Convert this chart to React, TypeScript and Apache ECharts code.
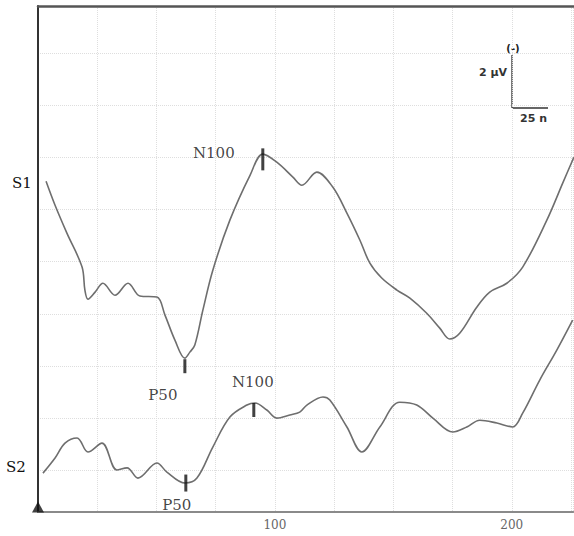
import React, { useEffect, useRef } from "react";
import * as echarts from "echarts";

// time (ms), amplitude (µV, arbitrary baseline)
const s1Data: [number, number][] = [
  [3.4, 11.08], [7.2, 10.16], [12.2, 9.09], [18.6, 7.79], [19.8, 6.91], [21.1, 6.56],
  [24.1, 6.83], [27.4, 7.17], [32.5, 6.71], [38.0, 7.17], [43.0, 6.68], [50.2, 6.64],
  [53.6, 5.95], [57.8, 4.99], [62.0, 4.3], [64.1, 4.53], [66.2, 4.8], [69.6, 6.14],
  [73.8, 7.67], [81.0, 9.59], [89.5, 11.31], [94.9, 12.12], [100.8, 11.81], [107.6, 11.24],
  [111.4, 10.93], [117.7, 11.43], [124.5, 10.85], [130.4, 9.86], [135.9, 8.82], [140.1, 7.94],
  [145.1, 7.37], [151.5, 6.91], [157.0, 6.6], [164.1, 6.02], [169.6, 5.45], [173.8, 5.03],
  [178.1, 5.26], [185.2, 6.25], [190.7, 6.83], [197.9, 7.17], [204.6, 7.79], [214.8, 9.59],
  [221.5, 11.01], [226.2, 12.0],
];

const s2Data: [number, number][] = [
  [2.1, -0.11], [7.2, 0.47], [11.4, 1.04], [16.5, 1.24], [21.1, 0.7], [27.0, 1.04],
  [33.3, 0.01], [37.6, 0.09], [42.2, -0.3], [50.2, 0.28], [54.4, -0.07], [62.0, -0.49],
  [67.1, -0.3], [73.8, 0.89], [81.0, 2.04], [88.2, 2.5], [91.6, 2.58], [96.6, 2.31],
  [100.8, 2.0], [106.3, 2.12], [110.5, 2.23], [113.5, 2.5], [120.3, 2.81], [123.2, 2.69],
  [130.4, 1.66], [136.7, 0.7], [144.3, 1.66], [152.7, 2.61], [159.9, 2.5], [166.7, 2.0],
  [175.1, 1.47], [181.0, 1.66], [186.5, 1.92], [193.7, 1.81], [200.4, 1.66], [204.6, 2.19],
  [211.8, 3.46], [219.0, 4.61], [225.7, 5.76],
];

const peakLabels = ["N100", "P50", "N100", "P50"];
const peakTimes = [94.9, 62.0, 91.1, 62.4];
const peakValues = [11.92, 3.99, 2.31, -0.49];

const xTickLabels = [100, 200];
const xMin = 0;
const xMax = 226;
const xStep = 25;
const yMin = -1.6;
const yMax = 17.8;
const yStep = 2;

const serif = '"DejaVu Serif", "Liberation Serif", serif';

export default function App() {
  const ref = useRef<HTMLDivElement>(null);
  useEffect(() => {
    if (!ref.current) return;
    const chart = echarts.init(ref.current, null, { renderer: "svg" });
    const markerSizes = [[3, 22], [3, 14], [3, 14], [3, 17]];
    const labelOffsets = [[-49, -6], [-22, 29], [-1, -28], [-9, 22]];
    chart.setOption({
      animation: false,
      backgroundColor: "#ffffff",
      grid: { left: 38, right: 0, top: 6, bottom: 24, containLabel: false },
      xAxis: [
        {
          type: "value",
          min: xMin,
          max: xMax,
          interval: xStep,
          axisLine: { show: true, onZero: false, lineStyle: { color: "#8a8a8a", width: 2 } },
          axisTick: { show: false },
          axisLabel: {
            margin: 7,
            color: "#666",
            fontFamily: serif,
            fontSize: 12,
            showMinLabel: false,
            showMaxLabel: false,
            formatter: (v: number) => (xTickLabels.includes(v) ? String(v) : ""),
          },
          splitLine: { show: true, lineStyle: { color: "#dedede", type: "dotted", width: 1 } },
        },
        {
          type: "value",
          position: "top",
          min: xMin,
          max: xMax,
          axisLine: { show: true, onZero: false, lineStyle: { color: "#555", width: 2.5 } },
          axisTick: { show: false },
          axisLabel: { show: false },
          splitLine: { show: false },
        },
      ],
      yAxis: {
        type: "value",
        min: yMin,
        max: yMax,
        minInterval: yStep,
        maxInterval: yStep,
        axisLine: { show: true, onZero: false, lineStyle: { color: "#333", width: 2 } },
        axisTick: { show: false },
        axisLabel: { show: false },
        splitLine: { show: true, lineStyle: { color: "#dedede", type: "dotted", width: 1 } },
      },
      graphic: [
        { type: "text", style: { text: "S1", x: 12, y: 183, font: `15px ${serif}`, fill: "#111", verticalAlign: "middle" } },
        { type: "text", style: { text: "S2", x: 6, y: 467, font: `15px ${serif}`, fill: "#111", verticalAlign: "middle" } },
        { type: "line", shape: { x1: 512, y1: 55, x2: 512, y2: 108 }, style: { stroke: "#333", lineWidth: 1.3 } },
        { type: "line", shape: { x1: 512, y1: 108, x2: 548, y2: 108 }, style: { stroke: "#333", lineWidth: 1.3 } },
        { type: "text", style: { text: "(-)", x: 513, y: 48, font: 'bold 10px "DejaVu Sans", sans-serif', fill: "#222", align: "center", verticalAlign: "middle" } },
        { type: "text", style: { text: "2 µV", x: 507, y: 72, font: 'bold 11px "DejaVu Sans", sans-serif', fill: "#333", align: "right", verticalAlign: "middle" } },
        { type: "text", style: { text: "25 n", x: 520, y: 118, font: 'bold 11px "DejaVu Sans", sans-serif', fill: "#333", align: "left", verticalAlign: "middle" } },
      ],
      series: [
        {
          name: "S1",
          type: "line",
          data: s1Data,
          smooth: 0.35,
          showSymbol: false,
          lineStyle: { color: "#6e6e6e", width: 1.6 },
          z: 3,
        },
        {
          name: "S2",
          type: "line",
          data: s2Data,
          smooth: 0.35,
          showSymbol: false,
          lineStyle: { color: "#6e6e6e", width: 1.6 },
          z: 3,
        },
        {
          name: "peaks",
          type: "scatter",
          clip: false,
          z: 4,
          data: peakLabels.map((name, i) => ({
            name,
            value: [peakTimes[i], peakValues[i]],
            symbolSize: markerSizes[i],
            label: {
              show: true,
              position: "inside",
              offset: labelOffsets[i],
              formatter: name,
              color: "#111",
              fontFamily: serif,
              fontSize: 15,
            },
          })),
          symbol: "rect",
          itemStyle: { color: "#111" },
        },
        {
          name: "origin",
          type: "scatter",
          clip: false,
          z: 5,
          data: [[xMin, yMin]],
          symbol: "triangle",
          symbolSize: [12, 11],
          symbolOffset: [0, -5],
          itemStyle: { color: "#111" },
        },
      ],
    });
    return () => chart.dispose();
  }, []);
  return (
    <div
      ref={ref}
      style={{ position: "fixed", left: 0, top: 0, width: 574, height: 536, background: "#fff" }}
    />
  );
}
